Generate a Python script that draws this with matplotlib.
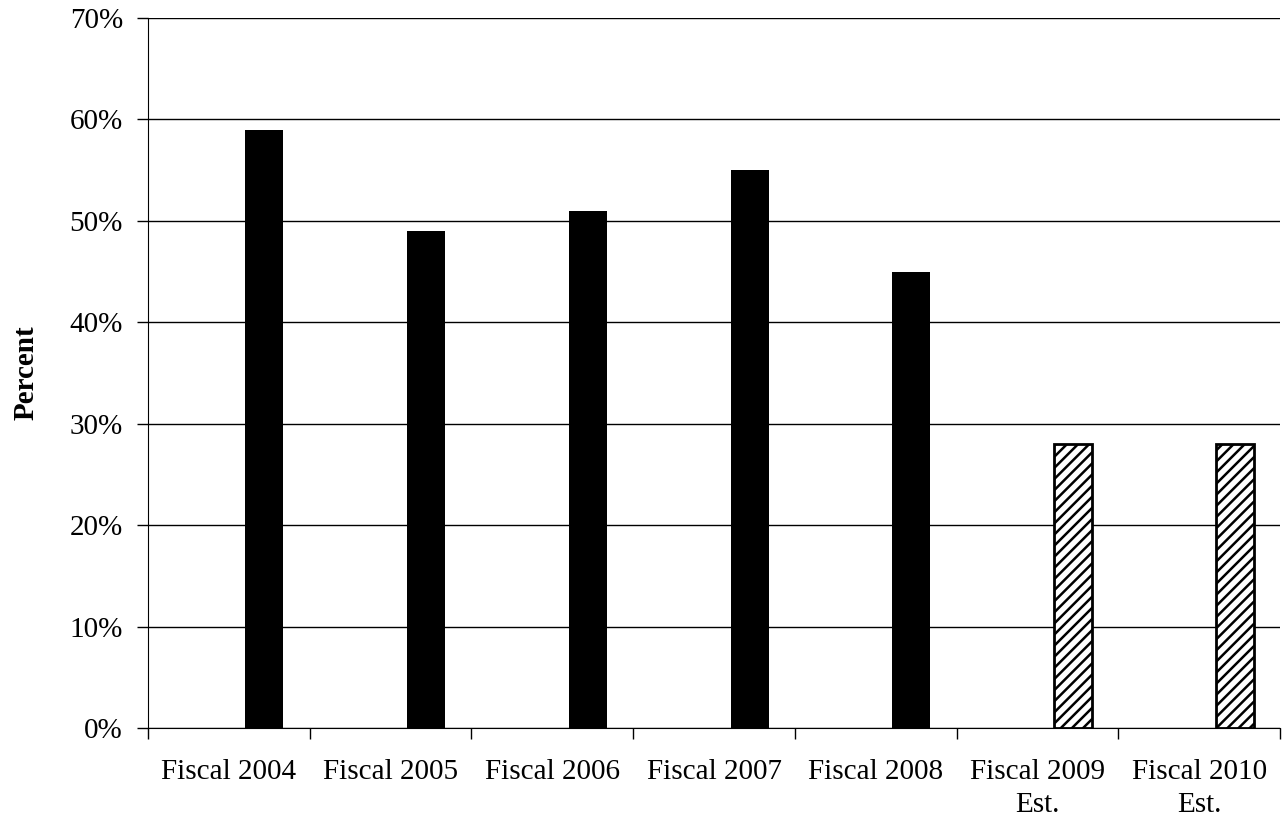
import numpy as np
import matplotlib.pyplot as plt
from matplotlib.ticker import FixedLocator

# data
categories = ['Fiscal 2004', 'Fiscal 2005', 'Fiscal 2006', 'Fiscal 2007',
              'Fiscal 2008', 'Fiscal 2009\nEst.', 'Fiscal 2010\nEst.']
values = [59, 49, 51, 55, 45, 28, 28]
estimated = [False, False, False, False, False, True, True]
y_ticks = [0, 10, 20, 30, 40, 50, 60, 70]

plt.rcParams['font.family'] = ['Liberation Serif', 'DejaVu Serif']
plt.rcParams['hatch.linewidth'] = 1.8

fig = plt.figure(figsize=(12.84, 8.21), dpi=100)
ax = fig.add_axes([0.1153, 0.1133, 0.8816, 0.8647])

x = np.arange(len(categories))
offset = 0.22
width = 0.235
for xi, v, est in zip(x, values, estimated):
    if est:
        ax.bar(xi + offset, v, width, facecolor='white', edgecolor='black',
               hatch='///', linewidth=2.0, zorder=3)
    else:
        ax.bar(xi + offset, v, width, color='black', zorder=3)

ax.set_xlim(-0.5, len(categories) - 0.5)
ax.set_ylim(0, 70)
ax.set_yticks(y_ticks)
ax.set_yticklabels([f'{t}%' for t in y_ticks], fontsize=21)
ax.yaxis.grid(True, color='black', linewidth=1.0, zorder=0)
ax.set_axisbelow(True)

ax.set_xticks(x)
ax.set_xticklabels(categories, fontsize=21, linespacing=1.35)
ax.tick_params(axis='x', which='major', length=0, pad=22)
ax.xaxis.set_minor_locator(FixedLocator(np.arange(-0.5, len(categories), 1.0)))
ax.tick_params(axis='x', which='minor', length=8, width=1.0, color='black')
ax.tick_params(axis='y', length=8, width=1.0, pad=10)
for lab in ax.get_xticklabels():
    lab.set_horizontalalignment('center')

ax.spines['top'].set_visible(False)
ax.spines['right'].set_visible(False)
ax.spines['left'].set_color('black')
ax.spines['bottom'].set_color('black')

ax.set_ylabel('Percent', fontsize=21, fontweight='bold', labelpad=22)

fig.savefig('out.png', dpi=100)
